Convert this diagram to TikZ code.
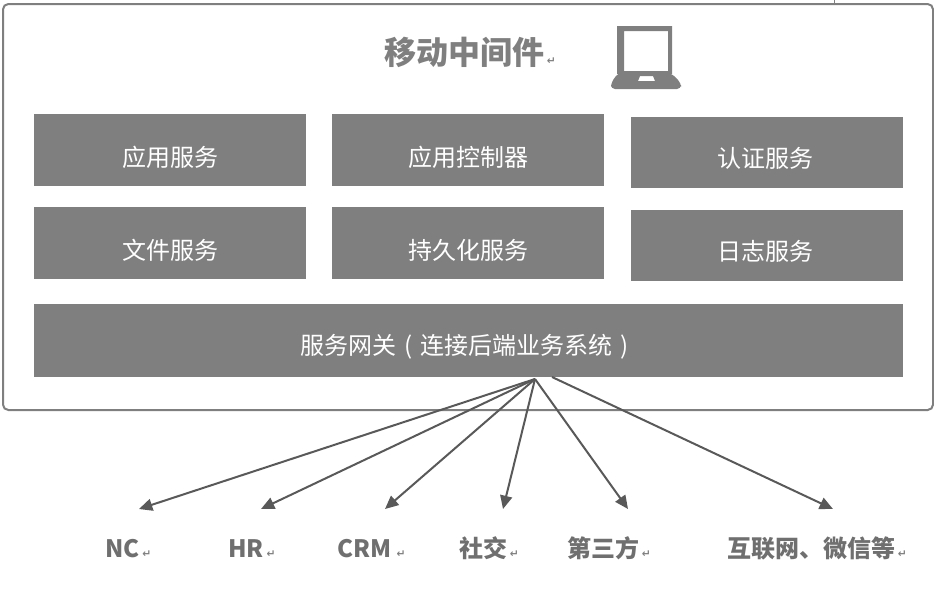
\documentclass[tikz,border=0pt]{standalone}
\usepackage{fontspec}
\setmainfont{Noto Sans CJK SC}
\newfontfamily\retfont{DejaVu Sans}
\usepackage{xcolor}
\definecolor{boxgray}{HTML}{7F7F7F}
\definecolor{arrgray}{HTML}{595959}
\definecolor{labgray}{HTML}{6F6F6F}
\newcommand{\retm}{{\retfont\fontsize{8}{8}\selectfont\textcolor{black!50}{\hspace{2pt}\raisebox{-0.5pt}{↵}}}}
\newcommand{\parn}[1]{\makebox[1em]{#1}}
\usetikzlibrary{arrows.meta}
\tikzset{
  outerbox/.style={draw=boxgray, line width=1.5pt, rounded corners=4pt},
  svcbox/.style  ={fill=boxgray, text=white, anchor=north west, inner xsep=0pt,
                   inner ysep=0pt, minimum width=204pt, text height=39pt,
                   text depth=15pt, align=center, font=\fontsize{18}{18}\selectfont},
  svcboxr/.style ={svcbox, text height=37.5pt, text depth=15.75pt},
  gwbox/.style   ={svcbox, minimum width=651.75pt, text height=38pt, text depth=16.75pt},
  title/.style   ={anchor=base west, inner sep=0pt, text=boxgray,
                   font=\bfseries\fontsize{24}{24}\selectfont},
  sink/.style    ={anchor=base west, inner sep=0pt, text=labgray,
                   font=\bfseries\fontsize{18}{18}\selectfont},
  link/.style    ={-{Triangle[length=10pt, width=9pt]}, line width=1.5pt, arrgray},
}
\begin{document}
\begin{tikzpicture}[x=0.75pt, y=-0.75pt]
  \useasboundingbox (0,0) rectangle (934,590);
  \draw[boxgray, line width=0.5pt] (834,0) -- (834,3);
  \draw[outerbox] (3,4) rectangle (933,410);
  \node[title] (ttl) at (384,64) {移动中间件\retm};
  % laptop
  \fill[boxgray, even odd rule] (617,26) rectangle (672,74)
    (624,31) rectangle (668,71);
  \fill[boxgray, even odd rule, rounded corners=3pt]
    (618,73) -- (671,73) -- (681,83) -- (681,89) -- (611,89) -- (611,83) -- cycle
    [sharp corners] (640,76) -- (653,76) -- (655,81) -- (638,81) -- cycle;
  % services
  \node[svcbox]  (app)  at (34,114)  {应用服务};
  \node[svcbox]  (ctl)  at (332,114) {应用控制器};
  \node[svcboxr] (auth) at (631,117) {认证服务\hspace*{2.5pt}};
  \node[svcbox]  (file) at (34,207)  {文件服务};
  \node[svcbox]  (pers) at (332,207) {持久化服务};
  \node[svcboxr] (log)  at (631,210) {日志服务\hspace*{2.5pt}};
  \node[gwbox]   (gw)   at (34,304)  {服务网关\parn{(}连接后端业务系统\parn{)}};
  % fan out
  \coordinate (hub) at (535,379);
  \coordinate (hubr) at (552,377);
  \coordinate (tnc) at (139,509);
  \coordinate (thr) at (261,509);
  \coordinate (tcrm) at (385,509);
  \coordinate (tsoc) at (503,509);
  \coordinate (tthd) at (628,509);
  \coordinate (tweb) at (833,509);
  \draw[link] (hub) -- (tnc);
  \draw[link] (hub) -- (thr);
  \draw[link] (hub) -- (tcrm);
  \draw[link] (hub) -- (tsoc);
  \draw[link] (hub) -- (tthd);
  \draw[link] (hubr) -- (tweb);
  \node[sink] (nc)  at (105,557) {NC\retm};
  \node[sink] (hr)  at (228,557) {HR\retm};
  \node[sink] (crm) at (337,557) {CRM\hspace{2pt}\retm};
  \node[sink] (soc) at (459,557) {社交\retm};
  \node[sink] (thd) at (567,557) {第三方\retm};
  \node[sink] (web) at (727,557) {互联网、微信等\retm};
\end{tikzpicture}
\end{document}
